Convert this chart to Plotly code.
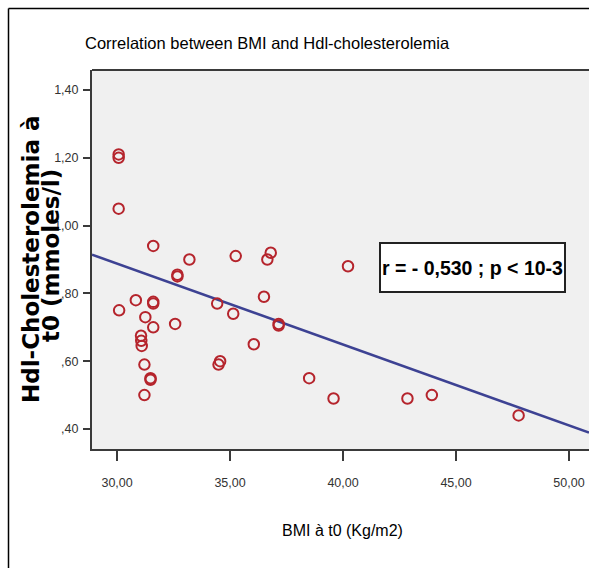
import plotly.graph_objects as go

# BMI at t0 (kg/m2) and HDL-cholesterol at t0 (mmol/l), one entry per patient
bmi = [30.07, 30.07, 30.07, 31.60, 33.20, 35.25, 36.65, 36.80, 40.22, 32.67,
       32.67, 36.50, 34.43, 35.14, 37.15, 37.15, 36.05, 34.56, 34.49, 38.50,
       39.58, 42.85, 43.93, 47.77, 30.09, 30.83, 31.60, 31.60, 31.25, 31.60,
       32.57, 31.06, 31.07, 31.09, 31.21, 31.48, 31.48, 31.21]
hdl = [1.21, 1.20, 1.05, 0.94, 0.90, 0.91, 0.90, 0.92, 0.88, 0.85,
       0.855, 0.79, 0.77, 0.74, 0.71, 0.705, 0.65, 0.60, 0.59, 0.55,
       0.49, 0.49, 0.50, 0.44, 0.75, 0.78, 0.77, 0.775, 0.73, 0.70,
       0.71, 0.675, 0.66, 0.645, 0.59, 0.55, 0.545, 0.50]

# Linear fit line (HDL = intercept + slope * BMI)
fit_intercept = 1.604
fit_slope = -0.02387

x_ticks = [30, 35, 40, 45, 50]
x_tick_labels = ["30,00", "35,00", "40,00", "45,00", "50,00"]
y_ticks = [0.40, 0.60, 0.80, 1.00, 1.20, 1.40]
y_tick_labels = [",40", ",60", ",80", "1,00", "1,20", "1,40"]
x_range = [28.89, 50.885]
y_range = [0.341, 1.459]

title_text = "Correlation between BMI and Hdl-cholesterolemia"
x_title = "BMI à t0 (Kg/m2)"
y_title_lines = ["Hdl-Cholesterolemia à", "t0 (mmoles/l)"]
stat_text = "r = - 0,530 ; p < 10-3"

# page geometry (pixels) and plot-area margins
W, H = 589, 568
ML, MT, MR, MB = 92, 70, 0, 119
PW, PH = W - ML - MR, H - MT - MB


def paper_x(px):
    return (px - ML) / PW


def paper_y(py):
    return (H - MB - py) / PH


SANS = "Liberation Sans, Arial, sans-serif"
WIDE_BOLD = "DejaVu Sans, Verdana, sans-serif"

fit_x = list(x_range)
fit_y = [fit_intercept + fit_slope * v for v in fit_x]

fig = go.Figure()
fig.add_trace(go.Scatter(
    x=fit_x, y=fit_y, mode="lines",
    line=dict(color="#3d4293", width=2.5),
    hoverinfo="skip", showlegend=False,
))
fig.add_trace(go.Scatter(
    x=bmi, y=hdl, mode="markers",
    marker=dict(symbol="circle-open", size=10.5, color="#b5242c",
                line=dict(width=2, color="#b5242c")),
    showlegend=False,
))

fig.update_layout(
    width=W, height=H,
    margin=dict(l=ML, r=MR, t=MT, b=MB, pad=0),
    paper_bgcolor="white",
    plot_bgcolor="#f0f0f0",
    showlegend=False,
    xaxis=dict(
        range=x_range, tickvals=x_ticks, ticktext=x_tick_labels,
        showgrid=False, zeroline=False,
        showline=True, linecolor="#3a3a3a", linewidth=2,
        ticks="outside", ticklen=10, tickwidth=1.5, tickcolor="#3a3a3a",
        tickfont=dict(family=SANS, size=12.5, color="#333333"),
        ticklabelstandoff=11,
    ),
    yaxis=dict(
        range=y_range, tickvals=y_ticks, ticktext=y_tick_labels,
        showgrid=False, zeroline=False,
        showline=True, linecolor="#3a3a3a", linewidth=2,
        ticks="outside", ticklen=7, tickwidth=1.5, tickcolor="#3a3a3a",
        tickfont=dict(family=SANS, size=12.5, color="#333333"),
        ticklabelstandoff=2,
    ),
    shapes=[
        # top edge of the plotting frame
        dict(type="line", xref="paper", yref="paper", x0=0, x1=1, y0=1, y1=1,
             line=dict(color="#3a3a3a", width=2)),
        # outer border of the chart panel
        dict(type="line", xref="paper", yref="paper",
             x0=paper_x(8.5), x1=paper_x(W + 2), y0=paper_y(8.5), y1=paper_y(8.5),
             line=dict(color="black", width=1.5)),
        dict(type="line", xref="paper", yref="paper",
             x0=paper_x(8.5), x1=paper_x(8.5), y0=paper_y(8.5), y1=paper_y(H + 2),
             line=dict(color="black", width=1.5)),
    ],
    annotations=[
        dict(text=title_text, xref="paper", yref="paper",
             x=paper_x(267), y=paper_y(43), xanchor="center", yanchor="middle",
             showarrow=False, font=dict(family=SANS, size=16.5, color="black")),
        dict(text=x_title, xref="paper", yref="paper",
             x=paper_x(342), y=paper_y(530), xanchor="center", yanchor="middle",
             showarrow=False, font=dict(family=SANS, size=16, color="black")),
        dict(text="<b>" + y_title_lines[0] + "</b>", xref="paper", yref="paper",
             x=paper_x(31), y=paper_y(259), xanchor="center", yanchor="middle",
             textangle=-90, showarrow=False,
             font=dict(family=WIDE_BOLD, size=23, color="black")),
        dict(text="<b>" + y_title_lines[1] + "</b>", xref="paper", yref="paper",
             x=paper_x(51), y=paper_y(256), xanchor="center", yanchor="middle",
             textangle=-90, showarrow=False,
             font=dict(family=WIDE_BOLD, size=23, color="black")),
        dict(text="<b>" + stat_text + "</b>", xref="paper", yref="paper",
             x=paper_x(472.5), y=paper_y(267.5), xanchor="center", yanchor="middle",
             showarrow=False, bgcolor="white", bordercolor="#222222",
             borderwidth=2, borderpad=0, width=183, height=47,
             font=dict(family=SANS, size=19.5, color="black")),
    ],
)

fig.write_html("out.html")
